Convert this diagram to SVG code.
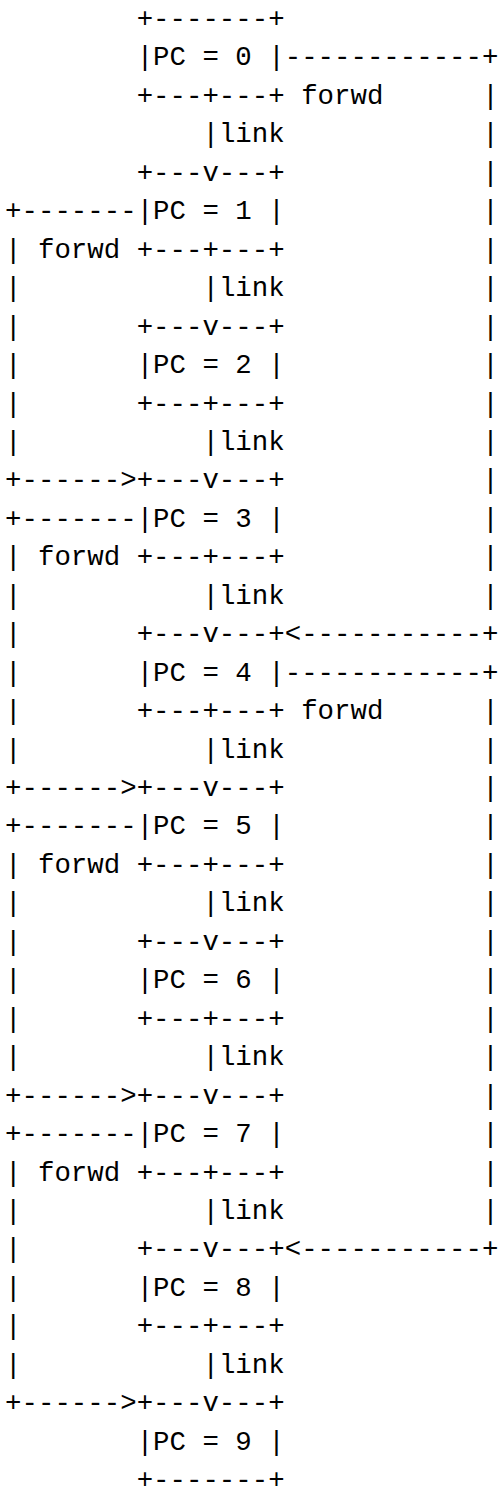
<svg xmlns="http://www.w3.org/2000/svg" width="500" height="1489" viewBox="0 0 500 1489" xml:space="preserve">
<style>
  text { font-family: "Liberation Mono", "Courier New", monospace; font-size: 27.4px; fill: #000; }
</style>
<rect x="0" y="0" width="500" height="1489" fill="#fff"/>

<!-- program-counter boxes: 16.44px per column, 38.45px per row -->
<g id="pc0"><text x="136.7" y="27">+-------+</text><text x="136.7" y="65.45">|PC = 0 |</text><text x="136.7" y="103.9">+---+---+</text></g>
<g id="pc1"><text x="136.7" y="180.8">+---v---+</text><text x="136.7" y="219.25">|PC = 1 |</text><text x="136.7" y="257.7">+---+---+</text></g>
<g id="pc2"><text x="136.7" y="334.6">+---v---+</text><text x="136.7" y="373.05">|PC = 2 |</text><text x="136.7" y="411.5">+---+---+</text></g>
<g id="pc3"><text x="136.7" y="488.4">+---v---+</text><text x="136.7" y="526.85">|PC = 3 |</text><text x="136.7" y="565.3">+---+---+</text></g>
<g id="pc4"><text x="136.7" y="642.2">+---v---+</text><text x="136.7" y="680.65">|PC = 4 |</text><text x="136.7" y="719.1">+---+---+</text></g>
<g id="pc5"><text x="136.7" y="796">+---v---+</text><text x="136.7" y="834.45">|PC = 5 |</text><text x="136.7" y="872.9">+---+---+</text></g>
<g id="pc6"><text x="136.7" y="949.8">+---v---+</text><text x="136.7" y="988.25">|PC = 6 |</text><text x="136.7" y="1026.7">+---+---+</text></g>
<g id="pc7"><text x="136.7" y="1103.6">+---v---+</text><text x="136.7" y="1142.05">|PC = 7 |</text><text x="136.7" y="1180.5">+---+---+</text></g>
<g id="pc8"><text x="136.7" y="1257.4">+---v---+</text><text x="136.7" y="1295.85">|PC = 8 |</text><text x="136.7" y="1334.3">+---+---+</text></g>
<g id="pc9"><text x="136.7" y="1411.2">+---v---+</text><text x="136.7" y="1449.65">|PC = 9 |</text><text x="136.7" y="1488.1">+-------+</text></g>

<g id="connectors">
  <!-- link edges between consecutive boxes -->
  <g id="links">
    <text x="202.5" y="142.35">|link</text>
    <text x="202.5" y="296.15">|link</text>
    <text x="202.5" y="449.95">|link</text>
    <text x="202.5" y="603.75">|link</text>
    <text x="202.5" y="757.55">|link</text>
    <text x="202.5" y="911.35">|link</text>
    <text x="202.5" y="1065.15">|link</text>
    <text x="202.5" y="1218.95">|link</text>
    <text x="202.5" y="1372.75">|link</text>
  </g>

  <!-- left forward edges: 1->3, 3->5, 5->7, 7->9 -->
  <g id="fwd-1-3">
    <text x="5.1" y="219.25">+-------</text>
    <text x="5.1" y="257.7">|</text><text x="38" y="257.7">forwd</text>
    <text x="5.1" y="296.15">|</text><text x="5.1" y="334.6">|</text><text x="5.1" y="373.05">|</text><text x="5.1" y="411.5">|</text><text x="5.1" y="449.95">|</text>
    <text x="5.1" y="488.4">+------&gt;</text>
  </g>
  <g id="fwd-3-5">
    <text x="5.1" y="526.85">+-------</text>
    <text x="5.1" y="565.3">|</text><text x="38" y="565.3">forwd</text>
    <text x="5.1" y="603.75">|</text><text x="5.1" y="642.2">|</text><text x="5.1" y="680.65">|</text><text x="5.1" y="719.1">|</text><text x="5.1" y="757.55">|</text>
    <text x="5.1" y="796">+------&gt;</text>
  </g>
  <g id="fwd-5-7">
    <text x="5.1" y="834.45">+-------</text>
    <text x="5.1" y="872.9">|</text><text x="38" y="872.9">forwd</text>
    <text x="5.1" y="911.35">|</text><text x="5.1" y="949.8">|</text><text x="5.1" y="988.25">|</text><text x="5.1" y="1026.7">|</text><text x="5.1" y="1065.15">|</text>
    <text x="5.1" y="1103.6">+------&gt;</text>
  </g>
  <g id="fwd-7-9">
    <text x="5.1" y="1142.05">+-------</text>
    <text x="5.1" y="1180.5">|</text><text x="38" y="1180.5">forwd</text>
    <text x="5.1" y="1218.95">|</text><text x="5.1" y="1257.4">|</text><text x="5.1" y="1295.85">|</text><text x="5.1" y="1334.3">|</text><text x="5.1" y="1372.75">|</text>
    <text x="5.1" y="1411.2">+------&gt;</text>
  </g>

  <!-- right forward edges: 0->4, 4->8 -->
  <g id="fwd-0-4">
    <text x="284.75" y="65.45">------------+</text>
    <text x="301.2" y="103.9">forwd</text><text x="482.15" y="103.9">|</text>
    <text x="482.15" y="142.35">|</text><text x="482.15" y="180.8">|</text><text x="482.15" y="219.25">|</text><text x="482.15" y="257.7">|</text>
    <text x="482.15" y="296.15">|</text><text x="482.15" y="334.6">|</text><text x="482.15" y="373.05">|</text><text x="482.15" y="411.5">|</text>
    <text x="482.15" y="449.95">|</text><text x="482.15" y="488.4">|</text><text x="482.15" y="526.85">|</text><text x="482.15" y="565.3">|</text>
    <text x="482.15" y="603.75">|</text>
    <text x="284.75" y="642.2">&lt;-----------+</text>
  </g>
  <g id="fwd-4-8">
    <text x="284.75" y="680.65">------------+</text>
    <text x="301.2" y="719.1">forwd</text><text x="482.15" y="719.1">|</text>
    <text x="482.15" y="757.55">|</text><text x="482.15" y="796">|</text><text x="482.15" y="834.45">|</text><text x="482.15" y="872.9">|</text>
    <text x="482.15" y="911.35">|</text><text x="482.15" y="949.8">|</text><text x="482.15" y="988.25">|</text><text x="482.15" y="1026.7">|</text>
    <text x="482.15" y="1065.15">|</text><text x="482.15" y="1103.6">|</text><text x="482.15" y="1142.05">|</text><text x="482.15" y="1180.5">|</text>
    <text x="482.15" y="1218.95">|</text>
    <text x="284.75" y="1257.4">&lt;-----------+</text>
  </g>
</g>
</svg>
